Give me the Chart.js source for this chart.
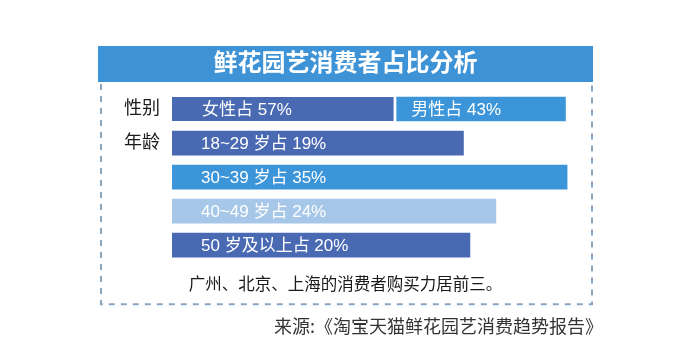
<!DOCTYPE html>
<html>
<head>
<meta charset="utf-8">
<script src="https://cdn.jsdelivr.net/npm/chart.js@4/dist/chart.umd.min.js"></script>
<style>
  html, body { margin: 0; padding: 0; background: #fff; }
  #wrap { position: relative; width: 673px; height: 355px; }
  #source {
    position: absolute; right: 70px; top: 314px;
    font: 18px "Noto Sans CJK SC", sans-serif; line-height: 22px; color: #333;
  }
</style>
</head>
<body>
<div id="wrap">
  <canvas id="myChart" width="673" height="355"></canvas>
  <div id="source">来源:《淘宝天猫鲜花园艺消费趋势报告》</div>
</div>
<script>
const chartTitle = "鲜花园艺消费者占比分析";
const chartNote = "广州、北京、上海的消费者购买力居前三。";
const rowLabels = ["性别", "年龄", "", "", ""];
const genderNames = ["女性", "男性"];
const genderShares = [57, 43];
const ageGroups = ["18~29 岁", "30~39 岁", "40~49 岁", "50 岁及以上"];
const ageShares = [19, 35, 24, 20];

const DARK = "#4a69b3", BRIGHT = "#3b95d8", LIGHT = "#a7c7e9";
const ageColors = [DARK, BRIGHT, LIGHT, DARK];

Chart.defaults.font.family = '"Liberation Sans", "Noto Sans CJK SC", sans-serif';

const blank = n => new Array(n).fill(null);

// row 0 = gender, rows 1..4 = age groups
let femaleData = blank(5), maleData = blank(5), femaleText = blank(5), maleText = blank(5);
femaleData[0] = genderShares[0];
maleData[0] = genderShares[1];
femaleText[0] = genderNames[0] + "占 " + genderShares[0] + "%";
maleText[0] = genderNames[1] + "占 " + genderShares[1] + "%";

let ageData = [null].concat(ageShares);
let ageText = [null].concat(ageGroups.map((g, i) => g + "占 " + ageShares[i] + "%"));

const frame = {
  id: "frame",
  beforeDraw(chart) {
    const c = chart.ctx, t = chart.titleBlock, a = chart.chartArea;
    c.save();
    c.fillStyle = "#3d93d6";
    c.fillRect(t.left, t.top, t.width, 36);
    // dashed box under the header
    c.strokeStyle = "#8aa5be";
    c.lineWidth = 2;
    c.setLineDash([6, 6]);
    const l = t.left + 3, r = t.right - 1, top = t.top + 38, bot = a.bottom + 42;
    c.beginPath();
    c.moveTo(l, top); c.lineTo(l, bot); c.lineTo(r, bot); c.lineTo(r, top);
    c.stroke();
    c.restore();
  },
  afterDatasetsDraw(chart) {
    const c = chart.ctx;
    c.save();
    c.fillStyle = "#fff";
    c.font = '17px "Liberation Sans", "Noto Sans CJK SC", sans-serif';
    c.textBaseline = "middle";
    chart.data.datasets.forEach((ds, di) => {
      chart.getDatasetMeta(di).data.forEach((el, i) => {
        if (ds.barText[i] == null) return;
        c.fillText(ds.barText[i], el.base + ds.textPad, el.y + 1);
      });
    });
    c.restore();
  }
};

let ctx = document.getElementById("myChart").getContext("2d");
let myChart = new Chart(ctx, {
  type: "bar",
  data: {
    labels: rowLabels,
    datasets: [
      {
        data: femaleData, barText: femaleText, textPad: 30,
        xAxisID: "x", stack: "g", grouped: false,
        backgroundColor: DARK, borderColor: "#fff",
        borderWidth: { right: 3 }, borderSkipped: false
      },
      {
        data: maleData, barText: maleText, textPad: 15,
        xAxisID: "x", stack: "g", grouped: false,
        backgroundColor: BRIGHT, borderWidth: 0
      },
      {
        data: ageData, barText: ageText, textPad: 29,
        xAxisID: "x2", grouped: false, base: -26,
        backgroundColor: [DARK].concat(ageColors), borderWidth: 0
      }
    ]
  },
  options: {
    indexAxis: "y",
    responsive: false,
    animation: false,
    barThickness: 24,
    layout: { padding: { left: 98, right: 80, top: 46, bottom: 60 } },
    plugins: {
      legend: { display: false },
      tooltip: { enabled: false },
      title: {
        display: true, text: chartTitle, color: "#fff",
        font: { size: 24, weight: "bold", lineHeight: 1.2 },
        padding: { top: 3.6, bottom: 13.6 }
      },
      subtitle: {
        display: true, position: "bottom", text: chartNote, color: "#1a1a1a",
        font: { size: 16.5, lineHeight: 1.2 },
        padding: { top: 13, bottom: 0 }
      }
    },
    scales: {
      x: { type: "linear", min: 0, max: 107, stacked: true, display: false },
      x2: { type: "linear", min: -26, max: 39, display: false },
      y: {
        grid: { display: false, drawTicks: false },
        border: { display: false },
        ticks: { color: "#1a1a1a", font: { size: 18 }, padding: 12 },
        afterFit(scale) { scale.width = 74; }
      }
    }
  },
  plugins: [frame]
});
</script>
</body>
</html>
